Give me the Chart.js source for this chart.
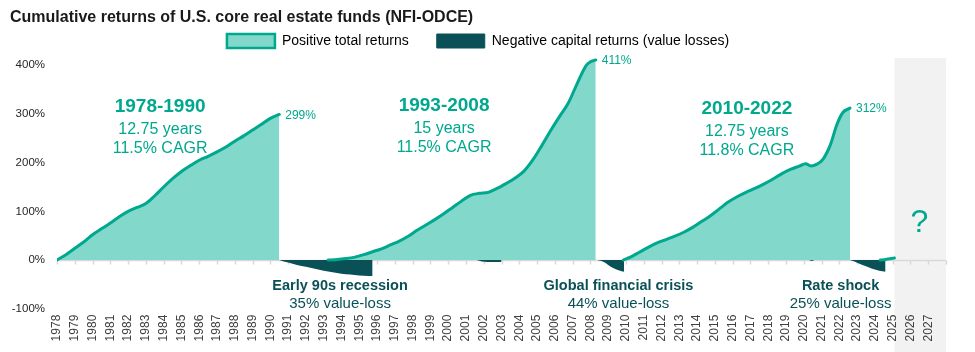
<!DOCTYPE html>
<html>
<head>
<meta charset="utf-8">
<script src="https://cdn.jsdelivr.net/npm/chart.js@4.4.1/dist/chart.umd.min.js"></script>
<style>
  html, body { margin: 0; padding: 0; background: #ffffff; }
  #wrap { width: 975px; height: 352px; position: relative; }
</style>
</head>
<body>
<div id="wrap"><canvas id="c" width="975" height="352"></canvas></div>
<script>
// ---------------- DATA ----------------
const chartTitle = 'Cumulative returns of U.S. core real estate funds (NFI-ODCE)';
const legendNames = ['Positive total returns', 'Negative capital returns (value losses)'];

const yTickValues = [-100, 0, 100, 200, 300, 400];
const firstYear = 1978;
const lastYearLabel = 2027;
const axisEndYear = 2028;
const forecastStart = 2025.1;

// Positive cumulative total returns, period 1 (1978-1990)
const run1Years  = [1978.0, 1978.5, 1979.0, 1979.5, 1980.0, 1980.5, 1981.0, 1981.5, 1982.0, 1982.5, 1983.0, 1983.5, 1984.0, 1984.5, 1985.0, 1985.5, 1986.0, 1986.5, 1987.0, 1987.5, 1988.0, 1988.5, 1989.0, 1989.5, 1990.0, 1990.5];
const run1Values = [0, 11, 24, 37, 52, 64, 76, 89, 100, 108, 116, 132, 150, 167, 182, 194, 205, 213, 222, 232, 244, 255, 267, 279, 291, 299];

// Period 2 (1993-2008)
const run2Years  = [1993.25, 1993.75, 1994.25, 1994.75, 1995.25, 1995.75, 1996.25, 1996.75, 1997.25, 1997.75, 1998.25, 1998.75, 1999.25, 1999.75, 2000.25, 2000.75, 2001.25, 2001.75, 2002.25, 2002.75, 2003.25, 2003.75, 2004.25, 2004.75, 2005.25, 2005.75, 2006.25, 2006.75, 2007.25, 2007.75, 2008.0, 2008.3];
const run2Values = [0, 1, 3, 6, 11, 17, 23, 31, 39, 49, 61, 72, 83, 95, 108, 121, 133, 137, 139, 147, 157, 168, 182, 205, 234, 265, 294, 322, 362, 399, 407, 411];

// Period 3 (2010-2022)
const run3Years  = [2009.85, 2010.25, 2010.75, 2011.25, 2011.75, 2012.25, 2012.75, 2013.25, 2013.75, 2014.25, 2014.75, 2015.25, 2015.75, 2016.25, 2016.75, 2017.25, 2017.75, 2018.25, 2018.75, 2019.25, 2019.75, 2020.1, 2020.4, 2020.75, 2021.1, 2021.5, 2021.85, 2022.2, 2022.6];
const run3Values = [0, 6, 16, 26, 35, 42, 49, 57, 67, 79, 91, 105, 119, 130, 139, 147, 156, 166, 177, 186, 193, 198, 193, 197, 208, 237, 277, 303, 312];

// New run starting after the rate shock
const run4Years  = [2024.3, 2024.6, 2025.1];
const run4Values = [0, 1, 4];

// Negative capital returns (value losses)
const loss1Years  = [1990.5, 1990.75, 1991.0, 1991.5, 1992.0, 1992.5, 1993.0, 1993.5, 1994.0, 1994.5, 1995.0, 1995.5, 1995.75];
const loss1Values = [0, -3, -5, -10, -14, -18, -22, -25, -28, -30, -32, -33, -33];

const loss2Years  = [2001.6, 2001.9, 2002.5, 2003.0];
const loss2Values = [0, -3, -4, -4];

const loss3Years  = [2008.4, 2008.75, 2009.0, 2009.25, 2009.5, 2009.75, 2009.9];
const loss3Values = [0, -4, -10, -16, -20, -23, -24];

const loss4Years  = [2020.3, 2020.45, 2020.6];
const loss4Values = [0, -2, 0];

const loss5Years  = [2022.6, 2022.85, 2023.1, 2023.5, 2023.85, 2024.25, 2024.6];
const loss5Values = [0, -3, -7, -13, -18, -22, -24];

// Annotation texts
const periodNames = ['1978-1990', '1993-2008', '2010-2022'];
const periodLengths = ['12.75 years', '15 years', '12.75 years'];
const periodCagrs = ['11.5% CAGR', '11.5% CAGR', '11.8% CAGR'];
const periodLabelYears = [1983.8, 1999.77, 2016.8];
const periodLabelValues = [315, 317, 310];

const peakLabels = ['299%', '411%', '312%'];

const crisisNames = ['Early 90s recession', 'Global financial crisis', 'Rate shock'];
const crisisLosses = ['35% value-loss', '44% value-loss', '25% value-loss'];
const crisisLabelYears = [1993.92, 2009.58, 2022.07];
const crisisLabelValue = -53.4;

const forecastMark = '?';
const forecastMarkYear = 2026.5;
const forecastMarkValue = 75;

// ---------------- STYLE ----------------
const FONT = '"Liberation Sans", Arial, Helvetica, sans-serif';
const TEAL = '#00A88E';
const TEAL_LIGHT = '#81D8CB';
const DARK = '#0A5157';
const GREY_BG = '#F2F2F2';
const AXIS_GREY = '#D9D9D9';

function pts(xs, ys) { return xs.map((x, i) => ({ x: x, y: ys[i] })); }

function posDataset(xs, ys) {
  return {
    data: pts(xs, ys),
    borderColor: TEAL,
    backgroundColor: TEAL_LIGHT,
    borderWidth: 3,
    fill: 'origin',
    pointRadius: 0,
    cubicInterpolationMode: 'monotone',
    borderCapStyle: 'round',
    borderJoinStyle: 'round'
  };
}
function negDataset(xs, ys) {
  return {
    data: pts(xs, ys),
    borderColor: DARK,
    backgroundColor: DARK,
    borderWidth: 0,
    fill: 'origin',
    pointRadius: 0,
    cubicInterpolationMode: 'monotone'
  };
}

const datasets = [
  posDataset(run1Years, run1Values),
  posDataset(run2Years, run2Values),
  posDataset(run3Years, run3Values),
  Object.assign(posDataset(run4Years, run4Values), { backgroundColor: 'rgba(0,0,0,0)' }),
  negDataset(loss1Years, loss1Values),
  negDataset(loss2Years, loss2Values),
  negDataset(loss3Years, loss3Values),
  negDataset(loss4Years, loss4Values),
  negDataset(loss5Years, loss5Values)
];

const decorPlugin = {
  id: 'decor',
  beforeDraw(chart) {
    const { ctx, chartArea, scales } = chart;
    const x1 = scales.x.getPixelForValue(forecastStart);
    const x2 = scales.x.getPixelForValue(axisEndYear);
    ctx.save();
    ctx.fillStyle = GREY_BG;
    ctx.fillRect(x1, chartArea.top, x2 - x1, chart.height - chartArea.top);
    ctx.restore();
  },
  beforeDatasetsDraw(chart) {
    const { ctx, chartArea, scales } = chart;
    const y0 = Math.round(scales.y.getPixelForValue(0)) + 0.5;
    ctx.save();
    ctx.strokeStyle = AXIS_GREY;
    ctx.lineWidth = 1.5;
    ctx.beginPath();
    ctx.moveTo(chartArea.left, y0);
    ctx.lineTo(chartArea.right, y0);
    scales.x.ticks.forEach(t => {
      const x = Math.round(scales.x.getPixelForValue(t.value)) + 0.5;
      ctx.moveTo(x, y0);
      ctx.lineTo(x, y0 + 4);
    });
    ctx.stroke();
    ctx.restore();
  },
  afterDatasetsDraw(chart) {
    const { ctx, scales } = chart;
    const xs = scales.x, ys = scales.y;
    ctx.save();
    ctx.textAlign = 'center';
    ctx.textBaseline = 'middle';
    // period annotations
    periodNames.forEach((name, i) => {
      const x = xs.getPixelForValue(periodLabelYears[i]);
      const y = ys.getPixelForValue(periodLabelValues[i]);
      ctx.fillStyle = TEAL;
      ctx.font = 'bold 19px ' + FONT;
      ctx.fillText(name, x, y);
      ctx.font = '16px ' + FONT;
      ctx.fillText(periodLengths[i], x, y + 22.5);
      ctx.fillText(periodCagrs[i], x, y + 41.5);
    });
    // peak labels at the end of each run
    const runMetas = [0, 1, 2].map(i => chart.getDatasetMeta(i));
    ctx.textAlign = 'left';
    ctx.font = '12px ' + FONT;
    ctx.fillStyle = TEAL;
    runMetas.forEach((meta, i) => {
      const last = meta.data[meta.data.length - 1];
      ctx.fillText(peakLabels[i], last.x + 6, last.y + 1);
    });
    // crisis annotations
    ctx.textAlign = 'center';
    crisisNames.forEach((name, i) => {
      const x = xs.getPixelForValue(crisisLabelYears[i]);
      const y = ys.getPixelForValue(crisisLabelValue);
      ctx.fillStyle = DARK;
      ctx.font = 'bold 14.5px ' + FONT;
      ctx.fillText(name, x, y);
      ctx.font = '15px ' + FONT;
      ctx.fillText(crisisLosses[i], x, y + 17.5);
    });
    // question mark in forecast area
    ctx.fillStyle = TEAL;
    ctx.font = '32px ' + FONT;
    ctx.fillText(forecastMark, xs.getPixelForValue(forecastMarkYear), ys.getPixelForValue(forecastMarkValue));
    ctx.restore();
  }
};

new Chart(document.getElementById('c'), {
  type: 'line',
  data: { datasets: datasets },
  plugins: [decorPlugin],
  options: {
    responsive: false,
    animation: false,
    devicePixelRatio: 1,
    layout: { padding: { left: 10, right: 29, top: 0, bottom: 0 } },
    plugins: {
      tooltip: { enabled: false },
      title: {
        display: true,
        text: chartTitle,
        align: 'start',
        color: '#1A1A1A',
        font: { family: FONT, size: 16, weight: 'bold', lineHeight: 1.2 },
        padding: { top: 8, bottom: -21.2 }
      },
      legend: {
        display: true,
        position: 'top',
        align: 'center',
        onClick: null,
        labels: {
          boxWidth: 48,
          boxHeight: 14,
          padding: 28,
          color: '#262626',
          font: { family: FONT, size: 14 },
          generateLabels: () => legendNames.map((t, i) => ({
            text: t,
            fillStyle: i === 0 ? TEAL_LIGHT : DARK,
            strokeStyle: i === 0 ? TEAL : DARK,
            lineWidth: i === 0 ? 2.5 : 1,
            hidden: false,
            datasetIndex: i
          }))
        }
      }
    },
    scales: {
      x: {
        type: 'linear',
        min: firstYear,
        max: axisEndYear,
        grid: { display: false, drawTicks: false },
        border: { display: false },
        afterFit: (scale) => { scale.height = 43.3; },
        ticks: {
          stepSize: 1,
          autoSkip: false,
          maxRotation: 90,
          minRotation: 90,
          padding: 6,
          color: '#404040',
          font: { family: FONT, size: 12 },
          callback: (v) => (v <= lastYearLabel ? String(v) : '')
        }
      },
      y: {
        type: 'linear',
        min: -100,
        max: 415,
        grid: { display: false, drawTicks: false },
        border: { display: false },
        afterFit: (scale) => { scale.width = 47; },
        afterBuildTicks: (scale) => { scale.ticks = yTickValues.map(v => ({ value: v })); },
        ticks: {
          padding: 12,
          color: '#262626',
          font: { family: FONT, size: 11.5 },
          callback: (v) => v + '%'
        }
      }
    }
  }
});
</script>
</body>
</html>
